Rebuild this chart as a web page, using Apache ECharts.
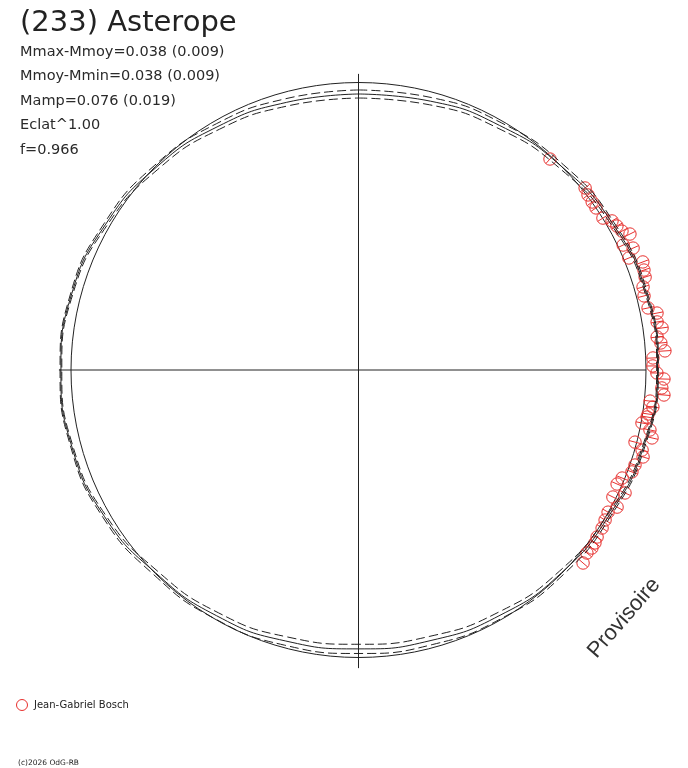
<!DOCTYPE html>
<html>
<head>
<meta charset="utf-8">
<script src="https://cdn.jsdelivr.net/npm/echarts@6/dist/echarts.min.js"></script>
<style>
html,body{margin:0;padding:0;background:#ffffff;}
#chart{width:688px;height:768px;}
</style>
</head>
<body>
<div id="chart"></div>
<script>
// ---- texts ----
const titleText = '(233) Asterope';
const infoLines = ['Mmax-Mmoy=0.038 (0.009)', 'Mmoy-Mmin=0.038 (0.009)', 'Mamp=0.076 (0.019)', 'Eclat^1.00', 'f=0.966'];
const observerName = 'Jean-Gabriel Bosch';
const copyrightText = '(c)2026 OdG-RB';
const watermarkText = 'Provisoire';

// ---- observations: rotational phase (0..1, clockwise from top) and relative brightness ----
const obsPhase = [0.1173, 0.1423, 0.1463, 0.1508, 0.1547, 0.1615, 0.1654, 0.1691, 0.1728, 0.1761,
  0.1798, 0.1835, 0.1875, 0.1922, 0.1964, 0.2001, 0.2048, 0.2096, 0.2164, 0.2200,
  0.2246, 0.2281, 0.2325, 0.2358, 0.2401, 0.2435, 0.2478, 0.2516, 0.2547, 0.2594,
  0.2630, 0.2669, 0.2699, 0.2740, 0.2757, 0.2794, 0.2823, 0.2862, 0.2906, 0.2938,
  0.2972, 0.3027, 0.3068, 0.3119, 0.3161, 0.3188, 0.3237, 0.3276, 0.3324, 0.3370,
  0.3416, 0.3472, 0.3505, 0.3537, 0.3575, 0.3630];
const obsFlux = [0.991, 1.011, 1.004, 1.001, 1.000, 1.001, 1.023, 1.029, 1.036, 1.056,
  1.018, 1.045, 1.018, 1.058, 1.052, 1.048, 1.031, 1.026, 1.030, 1.057,
  1.052, 1.066, 1.045, 1.056, 1.068, 1.025, 1.024, 1.038, 1.063, 1.057,
  1.066, 1.020, 1.032, 1.019, 1.017, 1.003, 1.035, 1.048, 0.994, 1.025,
  1.035, 1.017, 1.015, 0.991, 0.983, 1.021, 0.989, 1.018, 0.999, 1.004,
  1.010, 1.013, 1.019, 1.021, 1.018, 1.030];
const obsError = 0.021;

// ---- fitted model and its envelope ----
const modelPhase = [0, 0.0417, 0.0833, 0.125, 0.1667, 0.2083, 0.25, 0.2917, 0.3333, 0.375,
  0.4167, 0.4583, 0.5, 0.5417, 0.5833, 0.625, 0.6667, 0.7083, 0.75, 0.7917,
  0.8333, 0.875, 0.9167, 0.9583, 1.0];
const modelFit = [0.960, 0.968, 0.982, 1.000, 1.020, 1.036, 1.040, 1.027, 1.008, 0.998,
  0.985, 0.974, 0.970, 0.976, 0.987, 0.998, 1.020, 1.032, 1.035, 1.032,
  1.015, 0.996, 0.978, 0.964, 0.960];
const modelUpper = [0.974, 0.981, 0.993, 1.009, 1.026, 1.040, 1.043, 1.031, 1.014, 1.007,
  0.997, 0.989, 0.986, 0.991, 0.999, 1.007, 1.026, 1.036, 1.038, 1.036,
  1.021, 1.005, 0.989, 0.977, 0.974];
const modelLower = [0.946, 0.955, 0.971, 0.991, 1.014, 1.032, 1.037, 1.023, 1.002, 0.989,
  0.973, 0.959, 0.954, 0.961, 0.975, 0.989, 1.014, 1.028, 1.032, 1.028,
  1.009, 0.987, 0.967, 0.951, 0.946];

// ---- cross-hair reach (relative radius) at phases top, right, bottom, left ----
const crossPhase = [0, 0.25, 0.5, 0.75];
const crossReach = [1.030, 1.000, 1.037, 1.042];

const RED = '#e8302e';
const INK = '#222222';
const FONT = '"DejaVu Sans", "Liberation Sans", sans-serif';
const UNIT_PX = 287.5;     // pixel radius of relative brightness 1
const R_MAX = 1.1;         // outer limit of the data polar

const chart = echarts.init(document.getElementById('chart'), null, {renderer: 'canvas'});

const toPolar = (rs) => modelPhase.map((p, i) => [rs[i], p]);

const infoGraphics = infoLines.map((t, i) => ({
  type: 'text',
  x: 20,
  y: 52 + i * 24.5,
  style: {text: t, font: '14.5px ' + FONT, fill: '#2a2a2a', verticalAlign: 'middle', align: 'left'}
}));

const hiddenAngle = {
  type: 'value', min: 0, max: 1, startAngle: 90, clockwise: true,
  axisTick: {show: false}, axisLabel: {show: false}, splitLine: {show: false}
};
const hiddenRadius = {
  type: 'value', min: 0,
  axisLine: {show: false}, axisTick: {show: false}, axisLabel: {show: false}, splitLine: {show: false}
};

const option = {
  animation: false,
  backgroundColor: '#ffffff',
  polar: [
    {center: [358.5, 370], radius: UNIT_PX * R_MAX},
    {center: [358.5, 370], radius: UNIT_PX}
  ],
  angleAxis: [
    Object.assign({}, hiddenAngle, {polarIndex: 0, axisLine: {show: false}}),
    Object.assign({}, hiddenAngle, {polarIndex: 1, axisLine: {show: true, lineStyle: {color: INK, width: 1}}})
  ],
  radiusAxis: [
    Object.assign({}, hiddenRadius, {polarIndex: 0, max: R_MAX}),
    Object.assign({}, hiddenRadius, {polarIndex: 1, max: 1})
  ],
  graphic: [
    {type: 'text', x: 20, y: 23, style: {text: titleText, font: '29px ' + FONT, fill: INK, verticalAlign: 'middle', align: 'left'}},
    ...infoGraphics,
    {type: 'circle', shape: {cx: 22, cy: 705, r: 5.5}, style: {fill: 'none', stroke: RED, lineWidth: 1}},
    {type: 'text', x: 34, y: 705, style: {text: observerName, font: '10px ' + FONT, fill: INK, verticalAlign: 'middle', align: 'left'}},
    {type: 'text', x: 18, y: 763, style: {text: copyrightText, font: '7.5px ' + FONT, fill: INK, verticalAlign: 'middle', align: 'left'}},
    {type: 'text', x: 624, y: 618, rotation: 49 * Math.PI / 180,
      style: {text: watermarkText, font: '22px "Liberation Sans", Arial, sans-serif', fill: '#333333', verticalAlign: 'middle', align: 'center'}}
  ],
  series: [
    {
      type: 'line', coordinateSystem: 'polar', polarIndex: 0, clip: false, silent: true,
      data: [[crossReach[0], crossPhase[0]], [0, 0], [crossReach[2], crossPhase[2]]],
      showSymbol: false, lineStyle: {color: INK, width: 1}
    },
    {
      type: 'line', coordinateSystem: 'polar', polarIndex: 0, clip: false, silent: true,
      data: [[crossReach[3], crossPhase[3]], [0, 0], [crossReach[1], crossPhase[1]]],
      showSymbol: false, lineStyle: {color: INK, width: 1}
    },
    {
      name: 'fit', type: 'line', coordinateSystem: 'polar', polarIndex: 0, clip: false, silent: true,
      smooth: 0.5, showSymbol: false, data: toPolar(modelFit),
      lineStyle: {color: INK, width: 1}
    },
    {
      name: 'upper', type: 'line', coordinateSystem: 'polar', polarIndex: 0, clip: false, silent: true,
      smooth: 0.5, showSymbol: false, data: toPolar(modelUpper),
      lineStyle: {color: INK, width: 1, type: [9, 4]}
    },
    {
      name: 'lower', type: 'line', coordinateSystem: 'polar', polarIndex: 0, clip: false, silent: true,
      smooth: 0.5, showSymbol: false, data: toPolar(modelLower),
      lineStyle: {color: INK, width: 1, type: [9, 4]}
    },
    {
      name: observerName, type: 'custom', coordinateSystem: 'polar', polarIndex: 0, clip: false,
      encode: {radius: 0, angle: 1},
      data: obsPhase.map((p, i) => [obsFlux[i], p]),
      renderItem: function (params, api) {
        const r = api.value(0), ph = api.value(1);
        const c = api.coord([r, ph]);
        const a = api.coord([r - obsError, ph]);
        const b = api.coord([r + obsError, ph]);
        return {
          type: 'group',
          children: [
            {type: 'circle', shape: {cx: c[0], cy: c[1], r: 6.2}, style: {fill: 'none', stroke: RED, lineWidth: 1}},
            {type: 'line', shape: {x1: a[0], y1: a[1], x2: b[0], y2: b[1]}, style: {stroke: RED, lineWidth: 1}}
          ]
        };
      }
    }
  ]
};
chart.setOption(option);
</script>
</body>
</html>
